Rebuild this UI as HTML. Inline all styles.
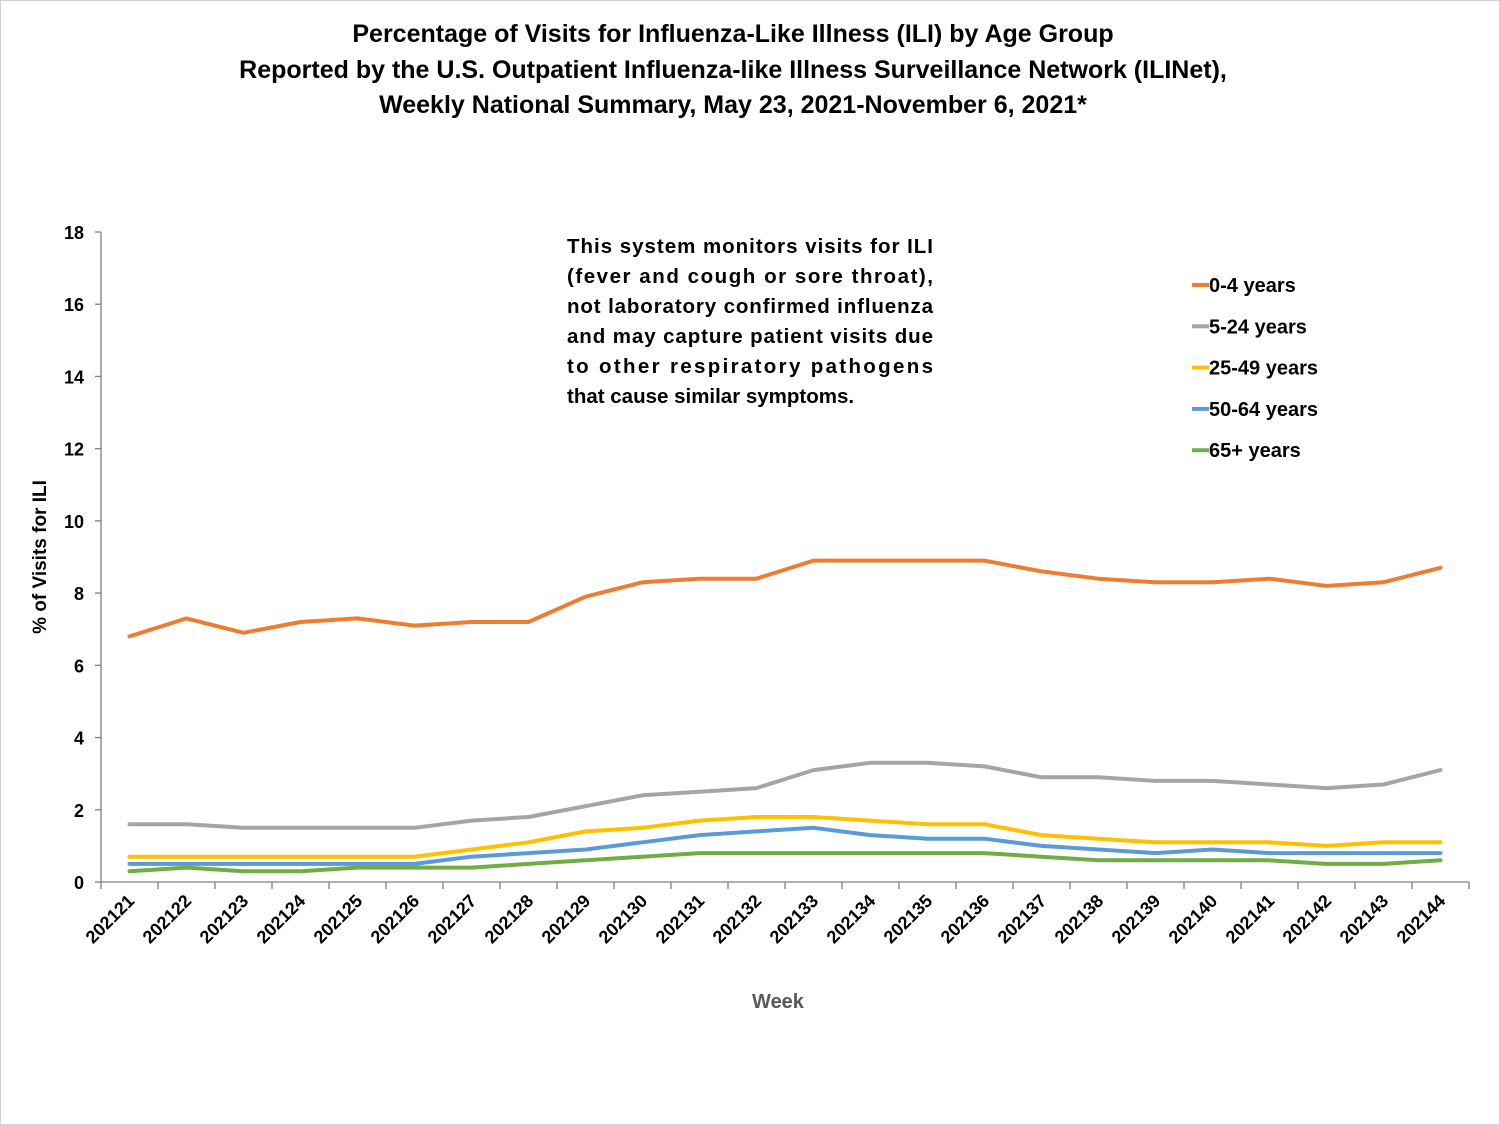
<!DOCTYPE html>
<html><head><meta charset="utf-8"><style>
body{margin:0;background:#fff}
svg{display:block}
text{font-family:"Liberation Sans",Arial,sans-serif;font-weight:bold}
</style></head><body>
<svg id="chart" width="1500" height="1125" viewBox="0 0 1500 1125" xmlns="http://www.w3.org/2000/svg">
<rect x="0.5" y="0.5" width="1499" height="1124" fill="#fff" stroke="#d0d0d0"/>
<g font-size="25" text-anchor="middle" fill="#000">
<text x="733" y="42">Percentage of Visits for Influenza-Like Illness (ILI) by Age Group</text>
<text x="733" y="78">Reported by the U.S. Outpatient Influenza-like Illness Surveillance Network (ILINet),</text>
<text x="733" y="113">Weekly National Summary, May 23, 2021-November 6, 2021*</text>
</g>
<g font-size="20.5" fill="#000">
<text x="567" y="253" textLength="366" lengthAdjust="spacing">This system monitors visits for ILI</text>
<text x="567" y="283" textLength="366" lengthAdjust="spacing">(fever and cough or sore throat),</text>
<text x="567" y="313" textLength="366" lengthAdjust="spacing">not laboratory confirmed influenza</text>
<text x="567" y="343" textLength="366" lengthAdjust="spacing">and may capture patient visits due</text>
<text x="567" y="373" textLength="366" lengthAdjust="spacing">to other respiratory pathogens</text>
<text x="567" y="403">that cause similar symptoms.</text>
</g>
<text x="46" y="557" font-size="19" text-anchor="middle" transform="rotate(-90 46 557)">% of Visits for ILI</text>
<text x="778" y="1008" font-size="20" fill="#595959" text-anchor="middle">Week</text>
<g id="axes"></g>
<g id="series"></g>
<g id="legend"></g>
</svg>
<script>
const weeks=["202121","202122","202123","202124","202125","202126","202127","202128","202129","202130","202131","202132","202133","202134","202135","202136","202137","202138","202139","202140","202141","202142","202143","202144"];
const age0_4=[6.8,7.3,6.9,7.2,7.3,7.1,7.2,7.2,7.9,8.3,8.4,8.4,8.9,8.9,8.9,8.9,8.6,8.4,8.3,8.3,8.4,8.2,8.3,8.7];
const age5_24=[1.6,1.6,1.5,1.5,1.5,1.5,1.7,1.8,2.1,2.4,2.5,2.6,3.1,3.3,3.3,3.2,2.9,2.9,2.8,2.8,2.7,2.6,2.7,3.1];
const age25_49=[0.7,0.7,0.7,0.7,0.7,0.7,0.9,1.1,1.4,1.5,1.7,1.8,1.8,1.7,1.6,1.6,1.3,1.2,1.1,1.1,1.1,1.0,1.1,1.1];
const age50_64=[0.5,0.5,0.5,0.5,0.5,0.5,0.7,0.8,0.9,1.1,1.3,1.4,1.5,1.3,1.2,1.2,1.0,0.9,0.8,0.9,0.8,0.8,0.8,0.8];
const age65=[0.3,0.4,0.3,0.3,0.4,0.4,0.4,0.5,0.6,0.7,0.8,0.8,0.8,0.8,0.8,0.8,0.7,0.6,0.6,0.6,0.6,0.5,0.5,0.6];
const yTicks=[0,2,4,6,8,10,12,14,16,18];
const seriesNames=["0-4 years","5-24 years","25-49 years","50-64 years","65+ years"];
const seriesColors=["#ED7D31","#A5A5A5","#FFC000","#5B9BD5","#70AD47"];
const seriesData=[age0_4,age5_24,age25_49,age50_64,age65];

const NS="http://www.w3.org/2000/svg";
const X0=101,X1=1469,Y0=882,Y1=232,YMAX=18;
const band=(X1-X0)/weeks.length;
const xs=i=>X0+band*(i+0.5);
const ys=v=>Y0-(v/YMAX)*(Y0-Y1);
function mk(tag,attrs,parent){const e=document.createElementNS(NS,tag);for(const k in attrs)e.setAttribute(k,attrs[k]);parent.appendChild(e);return e;}
const axes=document.getElementById('axes');
let e=mk('line',{x1:X0,y1:Y1,x2:X0,y2:Y0,stroke:'#808080','stroke-width':1.3},axes);


e=mk('line',{x1:X0,y1:Y0,x2:X1,y2:Y0,stroke:'#808080','stroke-width':1.3},axes);


yTicks.forEach(t=>{
  const y=ys(t);
  const l=mk('line',{x1:X0-6,y1:y,x2:X0,y2:y,stroke:'#808080','stroke-width':1.3},axes);
  
  
  const tx=mk('text',{x:X0-17,y:y+7,'font-size':18,'text-anchor':'end'},axes);
  tx.textContent=t;
  
  
});
for(let i=0;i<=weeks.length;i++){
  const x=X0+band*i;
  const l=mk('line',{x1:x,y1:Y0,x2:x,y2:Y0+7,stroke:'#808080','stroke-width':1.3},axes);
  
  
}
weeks.forEach((w,i)=>{
  const x=xs(i)+6,y=Y0+20;
  const tx=mk('text',{x:x,y:y,'font-size':18,'text-anchor':'end',transform:`rotate(-45 ${x} ${y})`},axes);
  tx.textContent=w;
  
  
});
const sg=document.getElementById('series');
seriesData.slice().reverse().forEach((arr,ri)=>{
  const k=seriesData.length-1-ri;
  const pts=arr.map((v,i)=>xs(i).toFixed(1)+','+ys(v).toFixed(1)).join(' ');
  const p=mk('polyline',{points:pts,fill:'none',stroke:seriesColors[k],'stroke-width':4,'stroke-linejoin':'round','stroke-linecap':'round'},sg);
  
  
});
const lg=document.getElementById('legend');
seriesNames.forEach((n,k)=>{
  const y=285+41.3*k;
  const g=mk('g',{},lg);
  
  
  mk('line',{x1:1192,y1:y,x2:1209,y2:y,stroke:seriesColors[k],'stroke-width':4},g);
  const t=mk('text',{x:1209,y:y+7,'font-size':20},g);
  t.textContent=n;
});
</script>
</body></html>
